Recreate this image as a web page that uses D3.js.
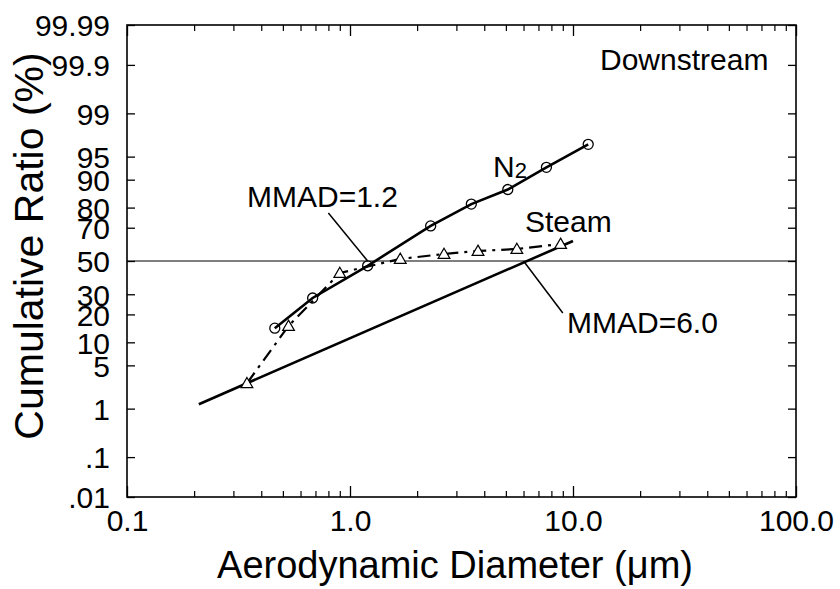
<!DOCTYPE html>
<html>
<head>
<meta charset="utf-8">
<script src="https://cdn.jsdelivr.net/npm/d3@7"></script>
<style>
  body { margin: 0; background: #fff; }
  text { font-family: "Liberation Sans", Arial, Helvetica, sans-serif; fill: #000; }
</style>
</head>
<body>
<script>
var width = 840,
    height = 589;

// N2 carrier gas, circles
var n2Diam = [0.46, 0.68, 1.2, 2.3, 3.5, 5.1, 7.6, 11.7];
var n2Cum = [14.5, 28, 47, 71, 81.5, 87, 93, 96.7];

// steam, triangles (dash-dot)
var steamDiam = [0.345, 0.53, 0.90, 1.68, 2.64, 3.75, 5.6, 8.8];
var steamCum = [2.7, 15.3, 42.5, 51.3, 54.4, 56.3, 57.5, 60.6];

// straight fit through the steam data (MMAD=6.0)
var fitDiam = [0.21, 10.0];
var fitCum = [1.2, 62.4];

var xTicks = [0.1, 1, 10, 100];
var xLabels = ["0.1", "1.0", "10.0", "100.0"];
var yTicks = [0.01, 0.1, 1, 5, 10, 20, 30, 50, 70, 80, 90, 95, 99, 99.9, 99.99];
var yLabels = [".01", ".1", "1", "5", "10", "20", "30", "50", "70", "80", "90", "95", "99", "99.9", "99.99"];

// inverse of the normal cdf (Acklam)
function probit(p) {
  var a = [-3.969683028665376e+01, 2.209460984245205e+02, -2.759285104469687e+02, 1.383577518672690e+02, -3.066479806614716e+01, 2.506628277459239e+00],
      b = [-5.447609879822406e+01, 1.615858368580409e+02, -1.556989798598866e+02, 6.680131188771972e+01, -1.328068155288572e+01],
      c = [-7.784894002430293e-03, -3.223964580411365e-01, -2.400758277161838e+00, -2.549732539343734e+00, 4.374664141464968e+00, 2.938163982698783e+00],
      d = [7.784695709041462e-03, 3.224671290700398e-01, 2.445134137142996e+00, 3.754408661907416e+00];
  var q, r, pl = 0.02425;
  if (p < pl) {
    q = Math.sqrt(-2 * Math.log(p));
    return (((((c[0]*q+c[1])*q+c[2])*q+c[3])*q+c[4])*q+c[5]) / ((((d[0]*q+d[1])*q+d[2])*q+d[3])*q+1);
  }
  if (p > 1 - pl) {
    q = Math.sqrt(-2 * Math.log(1 - p));
    return -(((((c[0]*q+c[1])*q+c[2])*q+c[3])*q+c[4])*q+c[5]) / ((((d[0]*q+d[1])*q+d[2])*q+d[3])*q+1);
  }
  q = p - 0.5; r = q * q;
  return (((((a[0]*r+a[1])*r+a[2])*r+a[3])*r+a[4])*r+a[5])*q / (((((b[0]*r+b[1])*r+b[2])*r+b[3])*r+b[4])*r+1);
}

var plotLeft = 127, plotRight = 796, plotTop = 25, plotBottom = 497;

var x = d3.scaleLog().domain([0.1, 100]).range([plotLeft, plotRight]);
var yz = d3.scaleLinear().domain([probit(0.0001), probit(0.9999)]).range([plotBottom, plotTop]);
function y(pct) { return yz(probit(pct / 100)); }

var svg = d3.select("body").append("svg")
    .attr("width", width)
    .attr("height", height);

// minor x ticks 2..9 in each decade
var xMinor = [];
[0.1, 1, 10].forEach(function(dec) {
  for (var k = 2; k <= 9; k++) xMinor.push(dec * k);
});

// bottom axis
svg.append("g")
    .attr("transform", "translate(0," + plotBottom + ")")
    .call(d3.axisBottom(x).tickValues(xTicks).tickSizeInner(-11).tickSizeOuter(0).tickPadding(13)
      .tickFormat(function(d, i) { return xLabels[i]; }))
    .call(function(g) {
      g.select(".domain").remove();
      g.selectAll("text").attr("font-size", 30);
      g.selectAll("line").attr("stroke-width", 1.3);
    });
svg.append("g")
    .attr("transform", "translate(0," + plotBottom + ")")
    .call(d3.axisBottom(x).tickValues(xMinor).tickSizeInner(-6).tickSizeOuter(0).tickFormat(""))
    .call(function(g) { g.select(".domain").remove(); g.selectAll("line").attr("stroke-width", 1.2); });

// top axis
svg.append("g")
    .attr("transform", "translate(0," + plotTop + ")")
    .call(d3.axisTop(x).tickValues(xTicks).tickSizeInner(-11).tickSizeOuter(0).tickFormat(""))
    .call(function(g) { g.select(".domain").remove(); g.selectAll("line").attr("stroke-width", 1.3); });
svg.append("g")
    .attr("transform", "translate(0," + plotTop + ")")
    .call(d3.axisTop(x).tickValues(xMinor).tickSizeInner(-6).tickSizeOuter(0).tickFormat(""))
    .call(function(g) { g.select(".domain").remove(); g.selectAll("line").attr("stroke-width", 1.2); });

// left axis
svg.append("g")
    .attr("transform", "translate(" + plotLeft + ",0)")
    .call(d3.axisLeft(yz).tickValues(yTicks.map(function(p) { return probit(p / 100); }))
      .tickSizeInner(-8).tickSizeOuter(0).tickPadding(17)
      .tickFormat(function(d, i) { return yLabels[i]; }))
    .call(function(g) {
      g.select(".domain").remove();
      g.selectAll("text").attr("font-size", 30).attr("dy", "0.36em");
      g.selectAll("line").attr("stroke-width", 1.3);
    });

// right axis
svg.append("g")
    .attr("transform", "translate(" + plotRight + ",0)")
    .call(d3.axisRight(yz).tickValues(yTicks.map(function(p) { return probit(p / 100); }))
      .tickSizeInner(-8).tickSizeOuter(0).tickFormat(""))
    .call(function(g) { g.select(".domain").remove(); g.selectAll("line").attr("stroke-width", 1.3); });

// frame
svg.append("rect")
    .attr("x", plotLeft).attr("y", plotTop)
    .attr("width", plotRight - plotLeft).attr("height", plotBottom - plotTop)
    .attr("fill", "none").attr("stroke", "#000").attr("stroke-width", 1.6);

// 50% line
svg.append("line")
    .attr("x1", plotLeft).attr("x2", plotRight)
    .attr("y1", y(50)).attr("y2", y(50))
    .attr("stroke", "#000").attr("stroke-width", 1.2);

var line = d3.line()
    .x(function(d) { return x(d[0]); })
    .y(function(d) { return y(d[1]); });

// fit line for steam
svg.append("path")
    .datum(d3.zip(fitDiam, fitCum))
    .attr("d", line)
    .attr("fill", "none").attr("stroke", "#000").attr("stroke-width", 2.6);

// steam dash-dot
var steam = d3.zip(steamDiam, steamCum);
svg.append("path")
    .datum(steam)
    .attr("d", line)
    .attr("fill", "none").attr("stroke", "#000").attr("stroke-width", 2.2)
    .attr("stroke-dasharray", "13,6,3,6");

var tri = d3.symbol().type(d3.symbolTriangle).size(60);
svg.append("g").selectAll("path")
    .data(steam)
    .join("path")
    .attr("d", tri)
    .attr("transform", function(d) { return "translate(" + x(d[0]) + "," + (y(d[1]) + 1) + ")"; })
    .attr("fill", "#fff").attr("stroke", "#000").attr("stroke-width", 1.2);

// N2 solid line
var n2 = d3.zip(n2Diam, n2Cum);
svg.append("path")
    .datum(n2)
    .attr("d", line)
    .attr("fill", "none").attr("stroke", "#000").attr("stroke-width", 2.6);

svg.append("g").selectAll("circle")
    .data(n2)
    .join("circle")
    .attr("cx", function(d) { return x(d[0]); })
    .attr("cy", function(d) { return y(d[1]); })
    .attr("r", 5)
    .attr("fill", "none").attr("stroke", "#000").attr("stroke-width", 1.3);

// leader lines to the MMAD labels
svg.append("line")
    .attr("x1", x(0.8)).attr("y1", y(77.5))
    .attr("x2", x(1.2)).attr("y2", y(50))
    .attr("stroke", "#000").attr("stroke-width", 1.5);
svg.append("line")
    .attr("x1", x(6.0)).attr("y1", y(50))
    .attr("x2", x(9.0)).attr("y2", y(20.6))
    .attr("stroke", "#000").attr("stroke-width", 1.5);

// labels
svg.append("text").attr("x", 247).attr("y", 207).attr("font-size", 30).text("MMAD=1.2");
svg.append("text").attr("x", 567).attr("y", 333).attr("font-size", 30).text("MMAD=6.0");
svg.append("text").attr("x", 525).attr("y", 232).attr("font-size", 30).text("Steam");
svg.append("text").attr("x", 600).attr("y", 70).attr("font-size", 30).text("Downstream");
var n2lab = svg.append("text").attr("x", 493).attr("y", 177).attr("font-size", 30);
n2lab.append("tspan").text("N");
n2lab.append("tspan").attr("font-size", 22).attr("dy", 1).text("2");

// axis titles
svg.append("text")
    .attr("x", 455).attr("y", 578)
    .attr("text-anchor", "middle")
    .attr("font-size", 38)
    .text("Aerodynamic Diameter (\u03bcm)");

svg.append("text")
    .attr("transform", "translate(43,246) rotate(-90)")
    .attr("text-anchor", "middle")
    .attr("font-size", 41)
    .text("Cumulative Ratio (%)");
</script>
</body>
</html>
